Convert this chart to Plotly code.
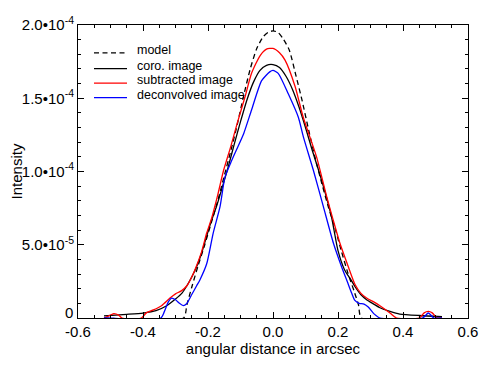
import numpy as np
import plotly.graph_objects as go

# ---- data (intensity in units of 1e-5) ----
x_model = [-0.52, -0.275, -0.265, -0.25, -0.23, -0.21, -0.19, -0.17, -0.15, -0.13, -0.11, -0.09,
           -0.07, -0.05, -0.03, -0.015, 0.0, 0.015, 0.03, 0.05, 0.07, 0.09, 0.11, 0.13, 0.15,
           0.17, 0.19, 0.21, 0.23, 0.25, 0.263, 0.272, 0.52]
y_model = [0, 0, 0.9, 2.1, 3.6, 5.0, 6.5, 8.0, 9.7, 11.4, 13.2, 15.2,
           17.0, 18.4, 19.2, 19.5, 19.6, 19.5, 19.1, 18.3, 16.6, 14.8, 12.8, 10.9, 9.2,
           7.6, 6.2, 4.6, 3.1, 1.8, 0.9, 0, 0]

x_coro = [-0.52, -0.45, -0.40, -0.36, -0.33, -0.30, -0.28, -0.265, -0.25, -0.235, -0.22, -0.204,
          -0.19, -0.174, -0.155, -0.138, -0.12, -0.10, -0.08, -0.06, -0.04, -0.02, 0.0,
          0.02, 0.04, 0.06, 0.08, 0.10, 0.12, 0.14, 0.16, 0.18, 0.20, 0.22, 0.24, 0.252,
          0.27, 0.288, 0.31, 0.329, 0.36, 0.39, 0.45, 0.52]
y_coro = [0.15, 0.25, 0.34, 0.5, 0.8, 1.3, 1.7, 2.2, 2.8, 3.5, 4.4, 5.6,
          6.6, 7.6, 9.0, 10.3, 11.8, 13.4, 14.9, 16.1, 16.9, 17.25, 17.3,
          17.1, 16.5, 15.6, 14.4, 13.0, 11.5, 10.1, 8.6, 6.9, 4.6, 3.3, 2.6, 2.15,
          1.6, 1.25, 0.95, 0.7, 0.45, 0.27, 0.17, 0.1]

x_sub = [-0.52, -0.505, -0.49, -0.475, -0.465, -0.405, -0.39, -0.368, -0.343, -0.317, -0.30,
         -0.282, -0.265, -0.25, -0.24, -0.22, -0.204, -0.189, -0.17, -0.153, -0.13, -0.11,
         -0.086, -0.066, -0.04, -0.02, 0.0, 0.02, 0.037, 0.068, 0.093, 0.134, 0.165, 0.185,
         0.206, 0.23, 0.252, 0.27, 0.288, 0.31, 0.329, 0.36, 0.38, 0.45, 0.465, 0.478, 0.49,
         0.505, 0.52]
y_sub = [0, 0.15, 0.3, 0.2, 0, 0, 0.35, 0.55, 0.84, 1.36, 1.65,
         1.85, 2.2, 2.8, 3.3, 4.5, 5.8, 6.8, 8.4, 10.0, 11.7, 13.3,
         15.1, 16.7, 17.9, 18.35, 18.4, 18.1, 17.6, 15.8, 13.7, 11.0, 8.3, 6.7,
         5.1, 3.6, 2.3, 1.7, 1.36, 1.1, 0.84, 0.34, 0, 0, 0.35, 0.45, 0.35,
         0, 0]

x_dec = [-0.52, -0.345, -0.335, -0.322, -0.312, -0.30, -0.288, -0.276, -0.265, -0.25, -0.235,
         -0.225, -0.204, -0.184, -0.163, -0.148, -0.13, -0.112, -0.09, -0.066, -0.035, -0.01,
         0.0, 0.016, 0.047, 0.078, 0.093, 0.124, 0.155, 0.186, 0.211, 0.23, 0.242, 0.252,
         0.265, 0.28, 0.293, 0.31, 0.329, 0.46, 0.478, 0.495, 0.52]
y_dec = [0, 0, 0.4, 1.1, 1.36, 1.25, 1.0, 0.84, 1.0, 1.6, 2.2,
         2.6, 3.7, 5.8, 7.6, 9.6, 10.6, 11.5, 12.6, 14.2, 16.2, 16.8,
         16.9, 16.7, 15.3, 13.7, 12.4, 10.1, 7.6, 5.1, 3.5, 2.4, 1.7, 1.2,
         1.0, 0.95, 0.75, 0.3, 0, 0, 0.34, 0, 0]

y_tickvals = [0, 5e-5, 1e-4, 1.5e-4, 2e-4]
y_ticktext = ["", "5.0\u202210<sup>-5</sup>", "1.0\u202210<sup>-4</sup>",
              "1.5\u202210<sup>-4</sup>", "2.0\u202210<sup>-4</sup>"]
y_zero_label = "0"
x_tickvals = [-0.6, -0.4, -0.2, 0.0, 0.2, 0.4, 0.6]
x_ticktext = ["-0.6", "-0.4", "-0.2", "0.0", "0.2", "0.4", "0.6"]

legend_labels = ["model", "coro. image", "subtracted image", "deconvolved image"]
colors = ["black", "black", "#ff0000", "#0000ff"]
dashes = ["5px,3.5px", "solid", "solid", "solid"]

scale = 1e-5
series = [(x_model, y_model), (x_coro, y_coro), (x_sub, y_sub), (x_dec, y_dec)]

FONT = "Liberation Sans, Arial, Helvetica, sans-serif"

fig = go.Figure()
for (xs, ys), name, c, d in zip(series, legend_labels, colors, dashes):
    fig.add_trace(go.Scatter(
        x=xs, y=np.array(ys) * scale, mode="lines", name=name,
        line=dict(color=c, width=1.3, dash=d, shape="spline", smoothing=0.6),
        showlegend=False, hoverinfo="skip"))

# page body has an 8px margin; figure is placed at (8, 8) in the window
OFF = 8
L, W, T, H = 78 - OFF, 390, 24.5 - OFF, 293.8
def px(xp):
    return (xp - OFF - L) / W
def py(yp):
    return (T + H - (yp - OFF)) / H
line_rows = [52.5, 68.3, 82.7, 97.3]
for lab, c, d, yl in zip(legend_labels, colors, dashes, line_rows):
    fig.add_shape(type="line", xref="paper", yref="paper",
                  x0=px(94), x1=px(127), y0=py(yl), y1=py(yl),
                  line=dict(color=c, width=1.3, dash=d))
    fig.add_annotation(xref="paper", yref="paper", x=px(135), y=py(yl - 3),
                       text=lab, showarrow=False, xanchor="left", yanchor="middle",
                       font=dict(family=FONT, size=12.5, color="black"))

# the "0" label of the y axis sits slightly raised, as in the reference
fig.add_annotation(xref="paper", yref="paper", x=px(75), y=py(313),
                   text=y_zero_label, showarrow=False, xanchor="right", yanchor="middle",
                   font=dict(family=FONT, size=15, color="black"))

axis_common = dict(showline=True, linecolor="black", linewidth=1, mirror="allticks",
                   ticks="inside", tickcolor="black", ticklen=6, tickwidth=1,
                   showgrid=False, zeroline=False, automargin=False,
                   tickfont=dict(family=FONT, size=15, color="black"))

FW, FH = 491 - OFF, 368 - OFF
fig.update_layout(
    width=FW, height=FH,
    margin=dict(l=L, r=FW - L - W, t=T, b=FH - T - H),
    plot_bgcolor="white", paper_bgcolor="white",
    font=dict(family=FONT, color="black"),
    xaxis=dict(range=[-0.6, 0.6], tickvals=x_tickvals, ticktext=x_ticktext,
               minor=dict(dtick=0.05, ticks="inside", ticklen=3, tickcolor="black"),
               title=dict(text="angular distance in arcsec", font=dict(family=FONT, size=15),
                          standoff=0),
               **axis_common),
    yaxis=dict(range=[0, 2e-4], tickvals=y_tickvals, ticktext=y_ticktext,
               minor=dict(dtick=1e-5, ticks="inside", ticklen=3, tickcolor="black"),
               title=dict(text="Intensity", font=dict(family=FONT, size=15)),
               **axis_common),
)

fig.write_html("out.html")
